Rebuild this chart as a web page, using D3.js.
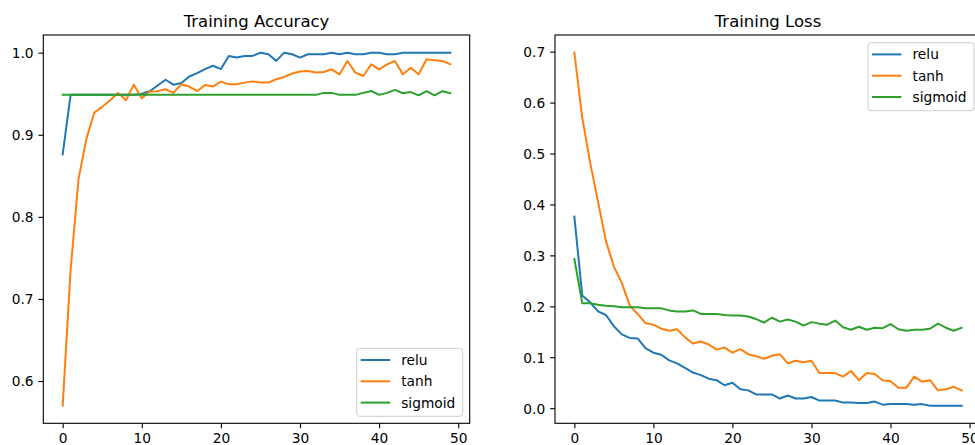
<!DOCTYPE html>
<html>
<head>
<meta charset="utf-8">
<script src="https://cdn.jsdelivr.net/npm/d3@7"></script>
<style>
  body { margin: 0; background: #fff; }
  svg { display: block; font-family: "DejaVu Sans", sans-serif; }
</style>
</head>
<body>
<svg id="chart" width="975" height="445"></svg>
<script>
// epochs 0..49
const epochs = d3.range(50);
const seriesNames = ["relu", "tanh", "sigmoid"];
const colors = ["#1f77b4", "#ff7f0e", "#2ca02c"];
const xTicks = [0, 10, 20, 30, 40, 50];
const accTicks = [0.6, 0.7, 0.8, 0.9, 1.0];
const lossTicks = [0.0, 0.1, 0.2, 0.3, 0.4, 0.5, 0.6, 0.7];

const accRelu = [0.876, 0.9486, 0.9486, 0.9486, 0.9486, 0.9486, 0.9486, 0.9486, 0.9486, 0.9486,
  0.950, 0.953, 0.960, 0.967, 0.961, 0.963, 0.971, 0.975, 0.980, 0.984,
  0.980, 0.996, 0.994, 0.996, 0.996, 1.0, 0.998, 0.990, 1.0, 0.998,
  0.994, 0.998, 0.998, 0.998, 1.0, 0.998, 1.0, 0.998, 0.998, 1.0,
  1.0, 0.998, 0.998, 1.0, 1.0, 1.0, 1.0, 1.0, 1.0, 1.0];
const accTanh = [0.570, 0.735, 0.846, 0.895, 0.927, 0.934, 0.942, 0.951, 0.942, 0.961,
  0.9445, 0.9526, 0.953, 0.9554, 0.951, 0.9615, 0.9587, 0.953, 0.9607, 0.9587,
  0.9647, 0.9615, 0.9615, 0.9635, 0.965, 0.9635, 0.9635, 0.9676, 0.9704, 0.9745,
  0.977, 0.9776, 0.9757, 0.9764, 0.9797, 0.9736, 0.9898, 0.9757, 0.9716, 0.9858,
  0.9797, 0.9858, 0.9898, 0.9736, 0.9817, 0.9736, 0.9919, 0.9906, 0.9898, 0.9858];
const accSigmoid = [0.9486, 0.9486, 0.9486, 0.9486, 0.9486, 0.9486, 0.9486, 0.9486, 0.9486, 0.9486,
  0.9486, 0.9486, 0.9486, 0.9486, 0.9486, 0.9486, 0.9486, 0.9486, 0.9486, 0.9486,
  0.9486, 0.9486, 0.9486, 0.9486, 0.9486, 0.9486, 0.9486, 0.9486, 0.9486, 0.9486,
  0.9486, 0.9486, 0.9486, 0.951, 0.951, 0.9486, 0.9486, 0.9486, 0.951, 0.9533,
  0.9486, 0.951, 0.9546, 0.9505, 0.952, 0.948, 0.953, 0.948, 0.953, 0.9505];

const lossRelu = [0.376, 0.221, 0.208, 0.190, 0.183, 0.161, 0.145, 0.138, 0.137, 0.118,
  0.109, 0.105, 0.094, 0.088, 0.079, 0.070, 0.065, 0.058, 0.055, 0.045,
  0.050, 0.037, 0.035, 0.027, 0.027, 0.027, 0.019, 0.025, 0.019, 0.019,
  0.022, 0.015, 0.015, 0.015, 0.011, 0.011, 0.010, 0.010, 0.013, 0.007,
  0.008, 0.008, 0.008, 0.007, 0.008, 0.005, 0.005, 0.005, 0.005, 0.005];
const lossTanh = [0.698, 0.570, 0.482, 0.405, 0.328, 0.278, 0.246, 0.202, 0.185, 0.167,
  0.164, 0.156, 0.152, 0.155, 0.139, 0.127, 0.131, 0.125, 0.115, 0.119,
  0.109, 0.116, 0.106, 0.102, 0.097, 0.103, 0.106, 0.088, 0.093, 0.090,
  0.093, 0.069, 0.069, 0.069, 0.062, 0.073, 0.055, 0.069, 0.067, 0.055,
  0.053, 0.040, 0.040, 0.062, 0.052, 0.055, 0.035, 0.037, 0.042, 0.035];
const lossSigmoid = [0.293, 0.206, 0.206, 0.203, 0.201, 0.200, 0.198, 0.198, 0.198, 0.196,
  0.196, 0.196, 0.192, 0.190, 0.190, 0.192, 0.185, 0.185, 0.185, 0.183,
  0.182, 0.182, 0.180, 0.175, 0.168, 0.178, 0.170, 0.174, 0.170, 0.162,
  0.169, 0.166, 0.164, 0.172, 0.159, 0.154, 0.160, 0.154, 0.158, 0.157,
  0.165, 0.155, 0.152, 0.154, 0.154, 0.156, 0.166, 0.158, 0.152, 0.158];

const svg = d3.select("#chart");
const plotTop = 35, plotBottom = 423.3;
const tickFont = 13.75;

// matplotlib style 5% margins
function padded(ext) {
  const p = (ext[1] - ext[0]) * 0.05;
  return [ext[0] - p, ext[1] + p];
}

function drawPanel(left, right, title, series, yTicks, legendPos) {
  const g = svg.append("g");
  const x = d3.scaleLinear().domain(padded(d3.extent(epochs))).range([left, right]);
  const y = d3.scaleLinear().domain(padded(d3.extent(series.flat()))).range([plotBottom, plotTop]);

  const line = d3.line().x((d, i) => x(epochs[i])).y(d => y(d));
  series.forEach((s, i) => {
    g.append("path")
      .datum(s)
      .attr("d", line)
      .attr("fill", "none")
      .attr("stroke", colors[i])
      .attr("stroke-width", 2)
      .attr("stroke-linejoin", "round")
      .attr("stroke-linecap", "square");
  });

  const xa = g.append("g")
    .attr("transform", `translate(0,${plotBottom})`)
    .call(d3.axisBottom(x).tickValues(xTicks).tickFormat(d3.format("d"))
      .tickSize(4.9).tickPadding(4.9).tickSizeOuter(0));
  const ya = g.append("g")
    .attr("transform", `translate(${left},0)`)
    .call(d3.axisLeft(y).tickValues(yTicks).tickFormat(d3.format(".1f"))
      .tickSize(4.9).tickPadding(4.9).tickSizeOuter(0));
  [xa, ya].forEach(a => {
    a.select(".domain").remove();
    a.selectAll("line").attr("stroke", "#000").attr("stroke-width", 1.1);
    a.selectAll("text").attr("fill", "#000")
      .style("font-family", "DejaVu Sans").style("font-size", tickFont + "px");
  });
  ya.selectAll("text").attr("dy", "0.36em");

  g.append("rect")
    .attr("x", left).attr("y", plotTop)
    .attr("width", right - left).attr("height", plotBottom - plotTop)
    .attr("fill", "none").attr("stroke", "#000").attr("stroke-width", 1.1);

  g.append("text")
    .attr("x", (left + right) / 2).attr("y", 27)
    .attr("text-anchor", "middle")
    .style("font-size", "16.5px")
    .attr("fill", "#000")
    .text(title);

  // legend box in the corner of the axes
  const lw = 106, lh = 68, pad = 7;
  const bx = right - pad - lw;
  const by = legendPos === "upper" ? plotTop + pad + 0.7 : plotBottom - pad - lh;
  const lg = g.append("g").attr("transform", `translate(${bx},${by})`);
  lg.append("rect")
    .attr("width", lw).attr("height", lh).attr("rx", 3)
    .attr("fill", "#fff").attr("fill-opacity", 0.8)
    .attr("stroke", "#ccc").attr("stroke-width", 1);
  seriesNames.forEach((name, i) => {
    const ry = 11.7 + i * 21.3;
    lg.append("line")
      .attr("x1", 4).attr("x2", 33.5).attr("y1", ry).attr("y2", ry)
      .attr("stroke", colors[i]).attr("stroke-width", 2);
    lg.append("text")
      .attr("x", 44.5).attr("y", ry).attr("dy", "0.36em")
      .style("font-size", tickFont + "px")
      .attr("fill", "#000")
      .text(name);
  });
}

drawPanel(43.3, 469.7, "Training Accuracy", [accRelu, accTanh, accSigmoid], accTicks, "lower");
drawPanel(555, 981, "Training Loss", [lossRelu, lossTanh, lossSigmoid], lossTicks, "upper");
</script>
</body>
</html>
